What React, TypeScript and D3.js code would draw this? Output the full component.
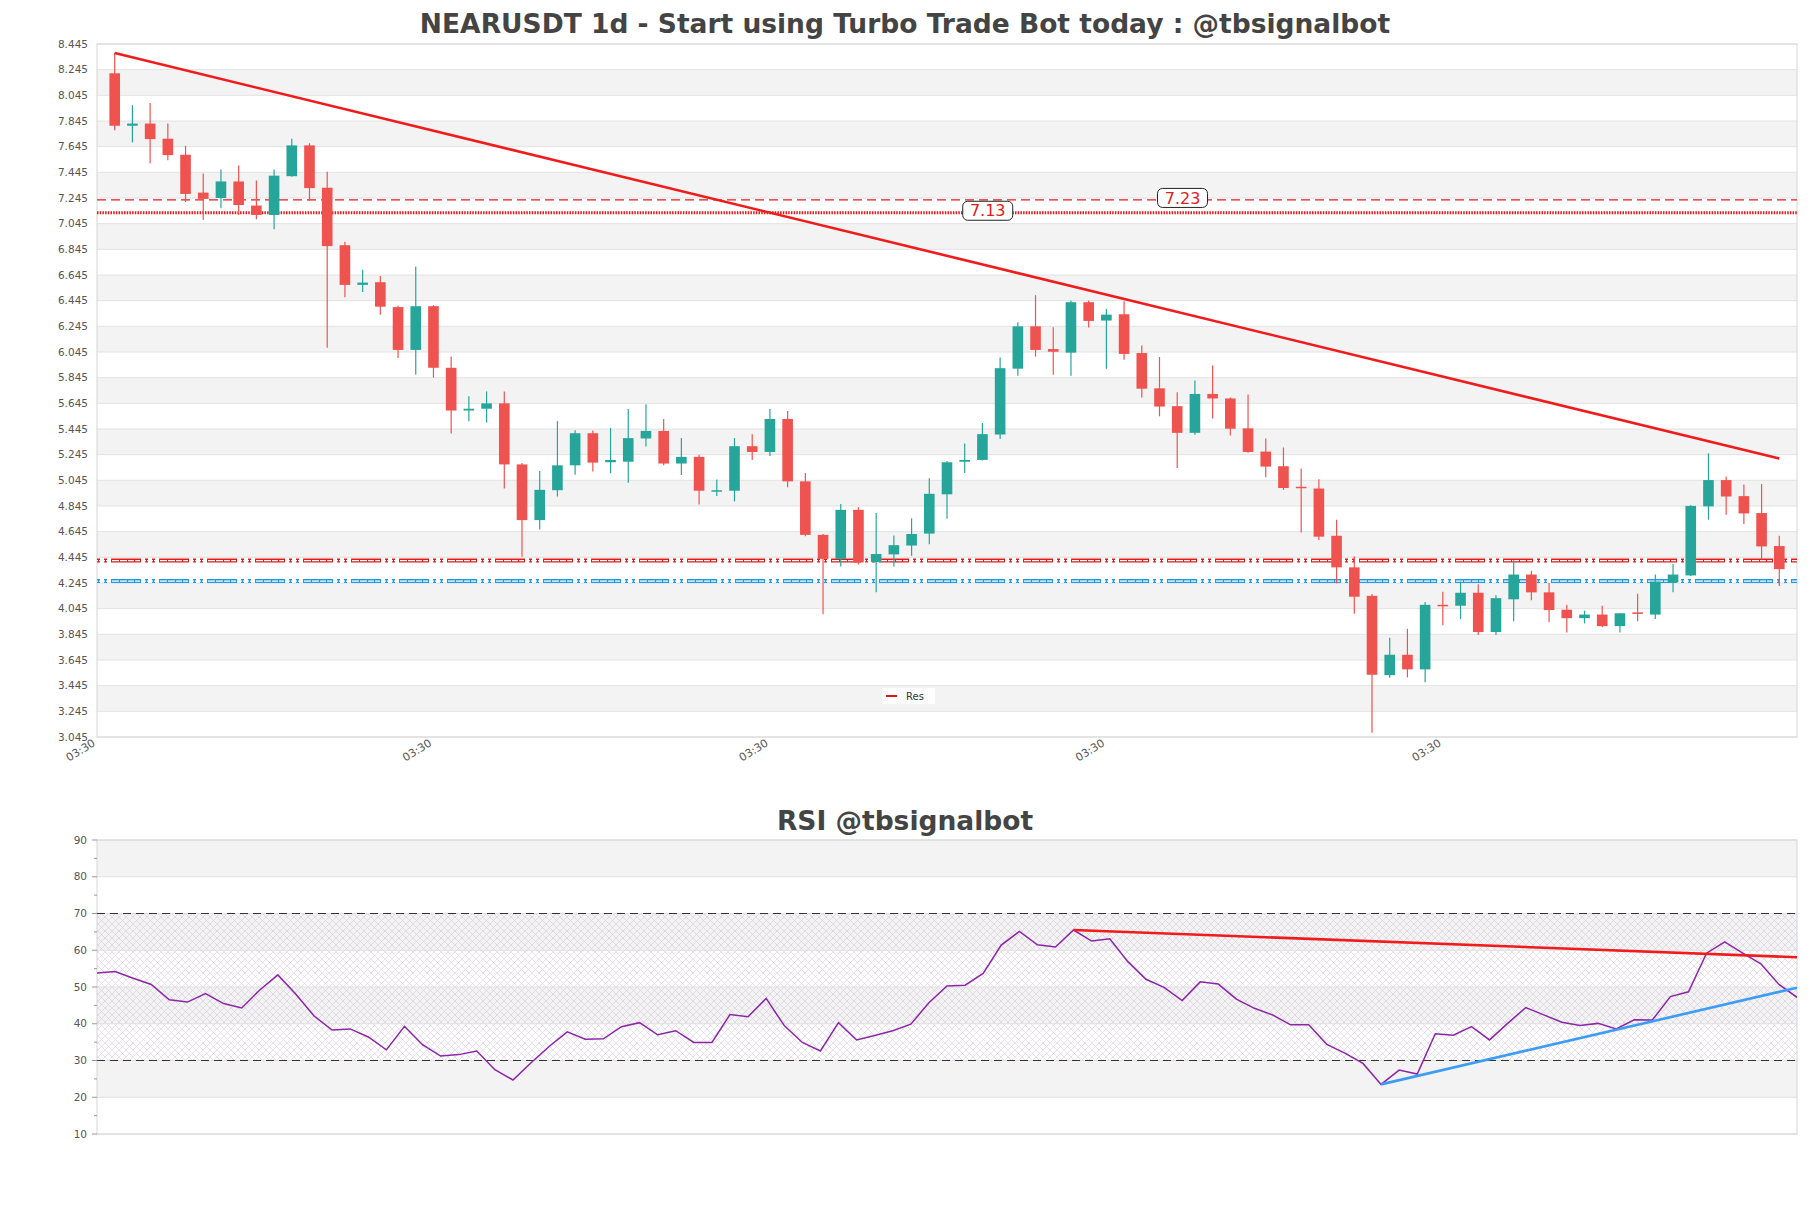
import React from "react";
import * as d3 from "d3";

const opens = [8.217,7.808,7.825,7.707,7.582,7.287,7.245,7.374,7.186,7.113,7.415,7.655,7.325,6.877,6.568,6.589,6.395,6.061,6.402,5.922,5.589,5.603,5.645,5.169,4.735,4.968,5.162,5.412,5.186,5.190,5.371,5.430,5.176,5.228,4.962,4.964,5.311,5.266,5.523,5.037,4.620,4.433,4.815,4.408,4.468,4.537,4.630,4.936,5.190,5.204,5.402,5.915,6.245,6.068,6.040,6.433,6.290,6.339,6.037,5.762,5.623,5.415,5.718,5.683,5.450,5.269,5.155,4.995,4.981,4.613,4.367,4.145,3.527,3.686,3.572,4.075,4.068,4.169,3.863,4.118,4.311,4.172,4.037,3.971,3.999,3.909,4.016,3.999,4.250,4.304,4.842,5.047,4.922,4.790,4.533];
const highs = [8.374,7.968,7.985,7.825,7.652,7.436,7.468,7.499,7.381,7.468,7.707,7.672,7.450,6.905,6.686,6.638,6.405,6.711,6.410,6.009,5.700,5.738,5.738,5.180,5.117,5.506,5.436,5.433,5.454,5.600,5.638,5.523,5.374,5.245,5.051,5.374,5.405,5.600,5.586,5.103,4.627,4.860,4.836,4.790,4.616,4.749,5.061,5.195,5.332,5.492,6.002,6.277,6.488,6.238,6.447,6.447,6.381,6.440,6.096,6.006,5.731,5.822,5.940,5.690,5.714,5.371,5.301,5.138,5.054,4.738,4.453,4.160,3.818,3.888,4.096,4.176,4.256,4.235,4.150,4.422,4.340,4.245,4.075,4.030,4.068,4.010,4.162,4.311,4.394,4.850,5.256,5.075,5.013,5.016,4.613];
const lows = [7.773,7.679,7.516,7.540,7.214,7.075,7.165,7.113,7.079,7.002,7.410,7.224,6.079,6.471,6.513,6.336,5.999,5.867,5.846,5.409,5.506,5.495,4.981,4.450,4.662,4.919,5.089,5.114,5.100,5.027,5.308,5.162,5.086,4.856,4.922,4.881,5.204,5.235,4.992,4.610,4.002,4.374,4.390,4.172,4.374,4.457,4.547,4.745,5.103,5.200,5.367,5.860,6.009,5.867,5.860,6.235,5.915,5.985,5.690,5.544,5.141,5.400,5.527,5.395,5.260,5.069,4.970,4.638,4.580,4.242,4.005,3.079,3.506,3.510,3.471,3.915,3.964,3.840,3.840,3.947,4.110,3.940,3.860,3.930,3.900,3.860,3.947,3.964,4.172,4.300,4.738,4.777,4.704,4.429,4.221];
const closes = [7.808,7.825,7.704,7.579,7.277,7.238,7.374,7.190,7.113,7.419,7.655,7.322,6.870,6.568,6.586,6.398,6.061,6.402,5.922,5.589,5.603,5.645,5.169,4.735,4.971,5.162,5.412,5.183,5.204,5.374,5.430,5.176,5.228,4.964,4.968,5.311,5.266,5.523,5.037,4.620,4.433,4.815,4.405,4.471,4.540,4.627,4.940,5.186,5.204,5.405,5.919,6.245,6.061,6.047,6.433,6.287,6.336,6.030,5.759,5.620,5.415,5.718,5.683,5.447,5.266,5.152,4.985,4.985,4.606,4.367,4.138,3.530,3.686,3.572,4.075,4.072,4.169,3.863,4.127,4.311,4.172,4.034,3.971,3.999,3.909,4.009,4.009,4.256,4.311,4.846,5.047,4.919,4.787,4.530,4.353];

const rsiValues = [53.8,54.2,52.4,50.7,46.5,45.9,48.2,45.5,44.3,49.2,53.3,48.0,42.1,38.3,38.6,36.4,32.9,39.3,34.3,31.2,31.6,32.6,27.5,24.7,29.4,33.8,37.8,35.8,35.9,39.2,40.3,37.0,38.1,34.9,34.9,42.5,41.9,46.9,39.5,34.9,32.6,40.3,35.6,36.8,38.1,39.9,45.7,50.3,50.5,53.7,61.4,65.1,61.5,60.9,65.5,62.5,63.1,56.9,52.1,49.9,46.3,51.4,50.8,46.7,44.2,42.4,39.7,39.7,34.4,32.0,29.2,23.5,27.4,26.3,37.3,36.9,39.2,35.6,40.1,44.4,42.4,40.4,39.5,40.1,38.6,41.1,41.0,47.4,48.7,59.2,62.3,59.2,56.3,50.7,47.2];

const priceTicks = d3.range(0, 28).map((i) => 3.045 + i * 0.2);
const rsiTicks = [10, 20, 30, 40, 50, 60, 70, 80, 90];
const rsiMinorTicks = [15, 25, 35, 45, 55, 65, 75, 85];
const xTickIndex = [-1, 18, 37, 56, 75];
const xTickLabels = ["03:30", "03:30", "03:30", "03:30", "03:30"];

const resLevels = [7.23, 7.13];
const resLabelAt = [60.3, 49.3];
const supportLevels = [4.42, 4.26];
const priceTrend = [[0, 8.374], [94, 5.215]];
const rsiResTrend = [[54, 65.5], [94, 58.1]];
const rsiSupTrend = [[71, 23.5], [94, 49.8]];

const FONT = "DejaVu Sans";
const UP = "#26a69a";
const DOWN = "#ef5350";

function PatternLine({ x1, x2, yv, color }: { x1: number; x2: number; yv: number; color: string }) {
  return (
    <g>
      <line x1={x1} x2={x2} y1={yv} y2={yv} stroke={color} strokeWidth={4} strokeDasharray="3,4,3,4,30,4" />
      <line x1={x1} x2={x2} y1={yv} y2={yv} stroke="#fff" strokeWidth={1.2} strokeDasharray="1,1,1,4,1,1,1,5,7,1,7,1,6,1,5,5" />
    </g>
  );
}

export default function App() {
  const L = 97, R = 1797, T = 44, B = 737;
  const RT = 840, RB = 1134;
  const x = d3.scaleLinear().domain([-1, 95]).range([L, R]);
  const y = d3.scaleLinear().domain([3.045, 8.445]).range([B, T]);
  const xr = d3.scaleLinear().domain([0, 94]).range([L, R]);
  const yr = d3.scaleLinear().domain([10, 90]).range([RB, RT]);
  const step = x(1) - x(0);
  const cw = step * 0.6;

  const rsiLine = d3.line<number>().x((_, i) => xr(i)).y((d) => yr(d))(rsiValues) || "";

  return (
    <svg width={1811} height={1208} style={{ position: "absolute", left: 0, top: 0, background: "#fff" }} fontFamily={FONT}>
      <defs>
        <pattern id="hatch" width={7} height={7} patternUnits="userSpaceOnUse">
          <path d="M0,0 L7,7 M7,0 L0,7" stroke="#bba8c8" strokeWidth={0.6} opacity={0.55} />
        </pattern>
        <clipPath id="mainClip"><rect x={L} y={T} width={R - L} height={B - T} /></clipPath>
        <clipPath id="rsiClip"><rect x={L} y={RT} width={R - L} height={RB - RT} /></clipPath>
      </defs>

      <text x={905} y={33} textAnchor="middle" fontSize={26.5} fontWeight="bold" fill="#444">
        NEARUSDT 1d - Start using Turbo Trade Bot today : @tbsignalbot
      </text>

      {/* main bands */}
      {priceTicks.slice(0, -1).map((p, i) =>
        i % 2 === 1 ? (
          <rect key={"b" + i} x={L} y={y(p + 0.2)} width={R - L} height={y(p) - y(p + 0.2)} fill="#f3f3f3" />
        ) : null
      )}
      {priceTicks.map((p, i) => (
        <line key={"g" + i} x1={L} x2={R} y1={y(p)} y2={y(p)} stroke="#e2e2e2" strokeWidth={1} />
      ))}
      <rect x={L} y={T} width={R - L} height={B - T} fill="none" stroke="#d6d6d6" strokeWidth={1} />
      {priceTicks.map((p, i) => (
        <text key={"t" + i} x={88} y={y(p)} dy="0.35em" textAnchor="end" fontSize={10.5} fill="#555">
          {p.toFixed(3)}
        </text>
      ))}
      {xTickIndex.map((t, i) => (
        <text key={"x" + i} transform={`translate(${x(t) - 1},${B + 8}) rotate(-32)`} textAnchor="end" fontSize={11} fill="#555">
          {xTickLabels[i]}
        </text>
      ))}

      <g clipPath="url(#mainClip)">
        {/* resistance lines */}
        <line x1={L} x2={R} y1={y(resLevels[0])} y2={y(resLevels[0])} stroke="#e31a1c" strokeWidth={1.3} strokeDasharray="9,5" />
        <line x1={L} x2={R} y1={y(resLevels[1])} y2={y(resLevels[1])} stroke="#e31a1c" strokeWidth={3} strokeDasharray="1.5,1.2" />
        {/* support lines */}
        <PatternLine x1={L} x2={R} yv={y(supportLevels[0])} color="#e31a1c" />
        <PatternLine x1={L} x2={R} yv={y(supportLevels[1])} color="#1e9be8" />

        {/* candles */}
        {opens.map((o, i) => {
          const c = closes[i];
          const up = c >= o;
          const col = up ? UP : DOWN;
          const top = y(Math.max(o, c));
          const h = Math.max(1.5, Math.abs(y(o) - y(c)));
          return (
            <g key={"c" + i}>
              <line x1={x(i)} x2={x(i)} y1={y(highs[i])} y2={y(lows[i])} stroke={col} strokeWidth={1.2} />
              <rect x={x(i) - cw / 2} y={top} width={cw} height={h} fill={col} />
            </g>
          );
        })}

        {/* trend line */}
        <line x1={x(priceTrend[0][0])} y1={y(priceTrend[0][1])} x2={x(priceTrend[1][0])} y2={y(priceTrend[1][1])} stroke="#f21b1b" strokeWidth={2.6} />
      </g>

      {/* level labels */}
      {resLevels.map((lv, i) => (
        <g key={"lbl" + i}>
          <rect x={x(resLabelAt[i]) - 25} y={y(lv) - 11.5} width={50} height={19} rx={5} fill="#fff" stroke="#222" strokeWidth={1} />
          <text x={x(resLabelAt[i])} y={y(lv) - 2} dy="0.35em" textAnchor="middle" fontSize={16} fill="#e31a1c">
            {lv.toFixed(2)}
          </text>
        </g>
      ))}

      {/* legend */}
      <rect x={882} y={688} width={53} height={16} fill="#fff" opacity={0.85} />
      <line x1={886} x2={897} y1={696} y2={696} stroke="#d7191c" strokeWidth={2} />
      <text x={906} y={696} dy="0.35em" fontSize={10} fill="#333">Res</text>

      {/* RSI */}
      <text x={905} y={830} textAnchor="middle" fontSize={26.5} fontWeight="bold" fill="#444">RSI @tbsignalbot</text>
      {[80, 60, 40, 20].map((v) => (
        <rect key={"rb" + v} x={L} y={yr(v + 10)} width={R - L} height={yr(v) - yr(v + 10)} fill="#f3f3f3" />
      ))}
      <rect x={L} y={yr(70)} width={R - L} height={yr(30) - yr(70)} fill="url(#hatch)" />
      {rsiTicks.map((v) => (
        <line key={"rg" + v} x1={L} x2={R} y1={yr(v)} y2={yr(v)} stroke="#e0e0e0" strokeWidth={1} />
      ))}
      <rect x={L} y={RT} width={R - L} height={RB - RT} fill="none" stroke="#d6d6d6" strokeWidth={1} />
      {rsiTicks.map((v) => (
        <g key={"rt" + v}>
          <line x1={L - 5} x2={L} y1={yr(v)} y2={yr(v)} stroke="#999" strokeWidth={1} />
          <text x={87} y={yr(v)} dy="0.35em" textAnchor="end" fontSize={10.5} fill="#555">{v}</text>
        </g>
      ))}
      {rsiMinorTicks.map((v) => (
        <line key={"rm" + v} x1={L - 3} x2={L} y1={yr(v)} y2={yr(v)} stroke="#999" strokeWidth={1} />
      ))}
      {[70, 30].map((v) => (
        <line key={"rd" + v} x1={L} x2={R} y1={yr(v)} y2={yr(v)} stroke="#333" strokeWidth={1.1} strokeDasharray="8,5" />
      ))}
      <g clipPath="url(#rsiClip)">
        <path d={rsiLine} fill="none" stroke="#8e24aa" strokeWidth={1.5} />
        <line x1={xr(rsiResTrend[0][0])} y1={yr(rsiResTrend[0][1])} x2={xr(rsiResTrend[1][0])} y2={yr(rsiResTrend[1][1])} stroke="#f21b1b" strokeWidth={2.6} />
        <line x1={xr(rsiSupTrend[0][0])} y1={yr(rsiSupTrend[0][1])} x2={xr(rsiSupTrend[1][0])} y2={yr(rsiSupTrend[1][1])} stroke="#3d9cf5" strokeWidth={2.6} />
      </g>
    </svg>
  );
}
